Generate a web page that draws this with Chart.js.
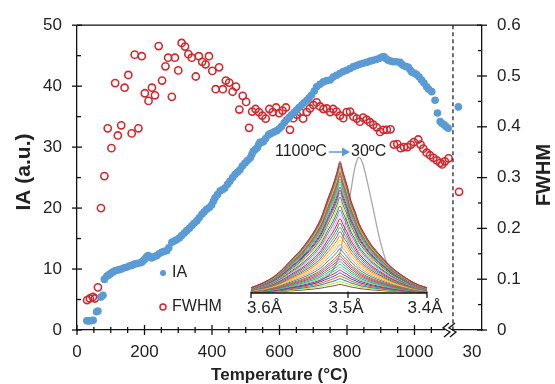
<!DOCTYPE html>
<html>
<head>
<meta charset="utf-8">
<script src="https://cdn.jsdelivr.net/npm/chart.js@4.4.1/dist/chart.umd.min.js"></script>
<style>
	body { margin: 0; background: #fff; }
	#wrap { position: relative; width: 555px; height: 384px; }
	#chart_main { position: absolute; left: 0; top: 0; }
	#chart_inset { position: absolute; left: 230px; top: 135px; }
</style>
</head>
<body>
<div id="wrap">
	<canvas id="chart_main" width="555" height="384"></canvas>
	<canvas id="chart_inset" width="220" height="190"></canvas>
</div>
<script>
// Integrated area (IA) against temperature
const iaTemp = [29, 34, 39, 44, 48, 58, 62, 71, 77, 81, 88, 93, 98, 103, 108, 113, 118, 125, 132, 140,
	147, 155, 162, 170, 177, 185, 192, 197, 202, 206, 211, 216, 221, 228, 236, 243, 251, 258, 266, 272,
	281, 288, 295, 303, 310, 318, 325, 333, 340, 347, 355, 362, 370, 377, 384, 392, 399, 404, 409, 416,
	424, 431, 438, 446, 453, 461, 468, 476, 483, 490, 498, 505, 513, 518, 522, 528, 534, 538, 542, 547,
	552, 559, 567, 572, 577, 584, 592, 599, 606, 614, 621, 629, 636, 644, 651, 658, 666, 673, 681, 688,
	695, 703, 710, 720, 730, 740, 750, 759, 769, 779, 789, 799, 809, 819, 829, 838, 848, 858, 868, 878,
	888, 898, 905, 910, 916, 922, 930, 937, 947, 957, 962, 967, 975, 982, 987, 992, 1000, 1006, 1014, 1021,
	1028, 1036, 1042, 1051, 1061, 1068, 1076, 1081, 1087, 1093, 1100, 1130];
const iaValue = [1.5, 1.5, 1.5, 1.55, 1.6, 3.0, 3.1, 5.4, 5.7, 8.3, 8.8, 9.0, 9.2, 9.4, 9.6, 9.7, 9.8, 9.9, 10.0, 10.2,
	10.3, 10.5, 10.6, 10.8, 10.9, 11.0, 11.1, 11.4, 11.7, 12.0, 12.2, 12.0, 11.8, 12.0, 12.2, 12.5, 12.75, 12.9, 13.0, 13.5,
	14.4, 14.6, 14.8, 15.1, 15.5, 15.9, 16.3, 16.7, 17.1, 17.5, 17.9, 18.4, 19.0, 19.4, 19.8, 20.1, 20.5, 21.1, 21.7, 22.2,
	22.8, 23.0, 23.3, 23.9, 24.4, 25.0, 25.5, 25.9, 26.3, 26.9, 27.4, 27.8, 28.2, 28.8, 29.3, 29.6, 29.9, 30.4, 30.8, 30.8,
	30.9, 31.4, 32.0, 32.2, 32.3, 32.5, 32.7, 33.0, 33.4, 34.0, 34.5, 34.9, 35.3, 35.7, 36.1, 36.5, 36.9, 37.3, 37.7, 38.1,
	38.55, 39.2, 39.9, 40.3, 40.7, 40.9, 41.0, 41.5, 41.8, 42.1, 42.4, 42.6, 42.9, 43.2, 43.4, 43.6, 43.75, 43.9, 44.1, 44.25,
	44.4, 44.6, 44.8, 44.8, 44.5, 44.25, 44.1, 44.0, 44.0, 43.9, 43.6, 43.4, 43.2, 43.1, 42.7, 42.3, 42.1, 41.9, 41.5, 41.0,
	40.5, 39.9, 39.5, 39.1, 37.7, 35.6, 34.2, 33.9, 33.7, 33.4, 33.1, 36.6];

// Peak width (FWHM) against temperature
const fwhmTemp = [30, 38, 47, 53, 62, 71, 81, 91, 102, 113, 121, 131, 141, 152, 162, 171, 182, 192, 201, 212,
	222, 231, 242, 252, 262, 270, 281, 290, 300, 310, 320, 330, 340, 352, 361, 371, 381, 391, 401, 411,
	421, 432, 441, 451, 461, 471, 481, 491, 501, 510, 519, 529, 539, 549, 559, 570, 580, 590, 599, 609,
	619, 631, 641, 651, 661, 670, 681, 690, 700, 710, 720, 730, 740, 750, 759, 769, 779, 789, 799, 809,
	819, 829, 838, 848, 858, 868, 878, 888, 898, 908, 918, 929, 939, 949, 959, 969, 979, 989, 998, 1011,
	1018, 1026, 1036, 1046, 1056, 1066, 1076, 1082, 1090, 1101, 1132];
const fwhmValue = [0.059, 0.062, 0.065, 0.062, 0.084, 0.240, 0.303, 0.397, 0.358, 0.486, 0.383, 0.403, 0.477, 0.502, 0.387, 0.542, 0.397, 0.539, 0.466, 0.451,
	0.477, 0.462, 0.559, 0.491, 0.519, 0.536, 0.459, 0.536, 0.511, 0.565, 0.558, 0.543, 0.536, 0.499, 0.539, 0.528, 0.523, 0.539, 0.510, 0.474,
	0.517, 0.474, 0.491, 0.487, 0.469, 0.479, 0.434, 0.461, 0.449, 0.398, 0.430, 0.435, 0.429, 0.422, 0.416, 0.435, 0.429, 0.438, 0.427, 0.432,
	0.438, 0.394, 0.417, 0.424, 0.429, 0.416, 0.429, 0.436, 0.443, 0.448, 0.440, 0.435, 0.436, 0.429, 0.435, 0.430, 0.422, 0.417, 0.429, 0.430,
	0.420, 0.416, 0.410, 0.418, 0.414, 0.409, 0.404, 0.399, 0.390, 0.394, 0.394, 0.395, 0.365, 0.366, 0.358, 0.360, 0.360, 0.365, 0.370, 0.375,
	0.365, 0.357, 0.349, 0.344, 0.339, 0.334, 0.329, 0.326, 0.332, 0.338, 0.272];

const xTickValues = [0, 200, 400, 600, 800, 1000, 1170];
const xTickLabels = ['0', '200', '400', '600', '800', '1000', '30'];
const breakAt = 1114;

// Inset: diffraction peak profiles, sampled on detector channels
const insetChannel = [0, 10, 20, 30, 40, 50, 58, 64, 70, 77, 82, 86, 89, 92, 96, 100, 104, 108, 112, 120, 130, 140, 150, 160, 168, 176];
const peakProfile = [0.04, 0.07, 0.11, 0.17, 0.25, 0.33, 0.41, 0.48, 0.57, 0.72, 0.82, 0.92, 1.0, 0.92, 0.82, 0.70, 0.62, 0.53, 0.47, 0.37, 0.28, 0.20, 0.14, 0.09, 0.06, 0.04];
const roomTempProfile = [0.02, 0.02, 0.03, 0.03, 0.04, 0.05, 0.06, 0.07, 0.09, 0.12, 0.16, 0.22, 0.28, 0.38, 0.55, 0.72, 0.88, 0.95, 0.90, 0.66, 0.34, 0.14, 0.08, 0.05, 0.04, 0.03];
const peakHeights = [0.92, 0.91, 0.90, 0.89, 0.88, 0.87, 0.86, 0.85, 0.84, 0.83, 0.82, 0.80, 0.78, 0.76, 0.74, 0.72, 0.70, 0.67, 0.64, 0.61, 0.58,
	0.55, 0.52, 0.49, 0.46, 0.43, 0.40, 0.37, 0.34, 0.31, 0.28, 0.26, 0.24, 0.22, 0.20, 0.18, 0.16, 0.14, 0.12, 0.10, 0.08, 0.06];
const insetTickPos = [0, 97, 176];
const insetTickLabels = ['3.6Å', '3.5Å', '3.4Å'];
const curveColors = ['#e41a1c', '#377eb8', '#4daf4a', '#984ea3', '#ff7f00', '#f2d600', '#f781bf', '#1b9e77', '#d95f02', '#7570b3',
	'#e7298a', '#66a61e', '#00bcd4', '#8bc34a', '#9c27b0', '#3f51b5', '#ff5722', '#009688', '#cddc39', '#795548', '#2196f3', '#ff9ecf'];

const FONT = "'Liberation Sans', Arial, sans-serif";
const INK = '#222';
const BLUE = '#5b9bd5';
const RED = '#d2282e';

function line(ctx, x1, y1, x2, y2) {
	ctx.beginPath();
	ctx.moveTo(x1, y1);
	ctx.lineTo(x2, y2);
	ctx.stroke();
}

const decor = {
	id: 'decor',
	afterDraw(chart) {
		const ctx = chart.ctx;
		const a = chart.chartArea;
		const {x, y, y2} = chart.scales;
		ctx.save();
		ctx.strokeStyle = '#111';
		ctx.lineWidth = 1.3;

		// frame top
		line(ctx, a.left, a.top, a.right, a.top);

		// tick marks
		for (let v = 0; v <= 1050; v += 50) {
			const px = x.getPixelForValue(v);
			const h = v % 200 === 0 ? 5 : 3;
			line(ctx, px, a.bottom - h, px, a.bottom + h);
		}
		for (let v = 0; v <= 50; v += 5) {
			const py = y.getPixelForValue(v);
			if (v % 10 === 0) line(ctx, a.left - 5, py, a.left + 5, py);
			else line(ctx, a.left, py, a.left + 4, py);
		}
		for (let i = 0; i <= 12; i++) {
			const py = y2.getPixelForValue(i * 0.05);
			if (i % 2 === 0) line(ctx, a.right - 5, py, a.right + 5, py);
			else line(ctx, a.right - 4, py, a.right, py);
		}

		// heating / cooling separator
		const bx = x.getPixelForValue(breakAt);
		ctx.setLineDash([4, 3]);
		ctx.lineWidth = 1.2;
		line(ctx, bx, a.top, bx, a.bottom);
		ctx.setLineDash([]);

		// axis break
		ctx.fillStyle = '#fff';
		ctx.fillRect(bx - 8, a.bottom - 2, 7, 4);
		ctx.lineWidth = 1.3;
		[bx - 9, bx - 3].forEach(o => {
			ctx.beginPath();
			ctx.moveTo(o + 5, a.bottom - 7);
			ctx.lineTo(o - 1, a.bottom - 2);
			ctx.lineTo(o + 6, a.bottom + 2);
			ctx.lineTo(o, a.bottom + 7);
			ctx.stroke();
		});

		// axis titles
		ctx.fillStyle = INK;
		ctx.textBaseline = 'middle';
		ctx.textAlign = 'center';
		ctx.font = 'bold 17px ' + FONT;
		ctx.fillText('Temperature (°C)', (a.left + a.right) / 2, 375);
		ctx.font = 'bold 21px ' + FONT;
		ctx.save();
		ctx.translate(24, 172);
		ctx.rotate(-Math.PI / 2);
		ctx.fillText('IA (a.u.)', 0, 0);
		ctx.restore();
		ctx.font = 'bold 20px ' + FONT;
		ctx.save();
		ctx.translate(544, 175);
		ctx.rotate(-Math.PI / 2);
		ctx.fillText('FWHM', 0, 0);
		ctx.restore();

		// legend
		ctx.textAlign = 'left';
		ctx.font = '16px ' + FONT;
		ctx.fillStyle = BLUE;
		ctx.beginPath();
		ctx.arc(163, 273, 3, 0, Math.PI * 2);
		ctx.fill();
		ctx.strokeStyle = RED;
		ctx.lineWidth = 1.5;
		ctx.beginPath();
		ctx.arc(163, 307, 3, 0, Math.PI * 2);
		ctx.stroke();
		ctx.fillStyle = INK;
		ctx.fillText('IA', 172, 273);
		ctx.fillText('FWHM', 172, 307);

		// inset caption
		ctx.fillText('1100ºC', 275, 152);
		ctx.fillText('30ºC', 351, 152);
		ctx.strokeStyle = BLUE;
		ctx.fillStyle = BLUE;
		line(ctx, 329, 152, 343, 152);
		ctx.beginPath();
		ctx.moveTo(350, 152);
		ctx.lineTo(342, 147.5);
		ctx.lineTo(342, 156.5);
		ctx.closePath();
		ctx.fill();
		ctx.restore();
	}
};

const axisFont = {family: FONT, size: 17};
const border = {display: true, color: '#111', width: 1.3};

new Chart(document.getElementById('chart_main'), {
	type: 'scatter',
	data: {
		datasets: [{
			label: 'IA',
			data: iaTemp.map((t, i) => ({x: t, y: iaValue[i]})),
			yAxisID: 'y',
			backgroundColor: BLUE,
			borderWidth: 0,
			pointRadius: 3.8
		}, {
			label: 'FWHM',
			data: fwhmTemp.map((t, i) => ({x: t, y: fwhmValue[i]})),
			yAxisID: 'y2',
			backgroundColor: 'rgba(0,0,0,0)',
			borderColor: RED,
			borderWidth: 1.6,
			pointRadius: 3.6
		}]
	},
	options: {
		responsive: false,
		animation: false,
		devicePixelRatio: 1,
		layout: {padding: {top: 23, left: 0, right: 0, bottom: 0}},
		plugins: {legend: {display: false}, tooltip: {enabled: false}},
		scales: {
			x: {
				type: 'linear', min: 0, max: 1200,
				afterFit: s => { s.height = 54; },
				afterBuildTicks: s => { s.ticks = xTickValues.map(v => ({value: v})); },
				grid: {display: false, drawTicks: false},
				border: border,
				ticks: {
					font: axisFont, color: INK, padding: 12, autoSkip: false, maxRotation: 0,
					callback: (v, i) => xTickLabels[i]
				}
			},
			y: {
				position: 'left', min: 0, max: 50,
				afterFit: s => { s.width = 77; },
				grid: {display: false, drawTicks: false},
				border: border,
				ticks: {font: axisFont, color: INK, padding: 15, stepSize: 10}
			},
			y2: {
				position: 'right', min: 0, max: 0.6,
				afterFit: s => { s.width = 73; },
				grid: {display: false, drawTicks: false},
				border: border,
				ticks: {
					font: axisFont, color: INK, padding: 15, stepSize: 0.1,
					callback: v => v === 0 ? '0' : v.toFixed(1)
				}
			}
		}
	},
	plugins: [decor]
});

// inset axis with d-spacing labels
const insetAxis = {
	id: 'insetAxis',
	afterDraw(chart) {
		const ctx = chart.ctx;
		const {x, y} = chart.scales;
		const base = y.getPixelForValue(0);
		ctx.save();
		ctx.strokeStyle = '#111';
		ctx.lineWidth = 1.3;
		line(ctx, x.getPixelForValue(0), base, x.getPixelForValue(176), base);
		ctx.fillStyle = INK;
		ctx.font = '17px ' + FONT;
		ctx.textBaseline = 'middle';
		insetTickPos.forEach((p, i) => {
			const px = x.getPixelForValue(p);
			line(ctx, px, base - 1.5, px, base + 5);
			ctx.textAlign = i === 0 ? 'left' : 'center';
			ctx.fillText(insetTickLabels[i], i === 0 ? px - 4 : px - 2, base + 15);
		});
		ctx.restore();
	}
};

const insetSets = peakHeights.map((h, k) => ({
	data: insetChannel.map((c, i) => ({x: c, y: peakProfile[i] * h})),
	borderColor: curveColors[k % curveColors.length],
	borderWidth: 1
}));
insetSets.push({
	data: insetChannel.map((c, i) => ({x: c, y: roomTempProfile[i]})),
	borderColor: '#a8a8a8',
	borderWidth: 1.3
});

new Chart(document.getElementById('chart_inset'), {
	type: 'line',
	data: {datasets: insetSets},
	options: {
		responsive: false,
		animation: false,
		devicePixelRatio: 1,
		layout: {padding: {left: 21, right: 23, top: 15, bottom: 32}},
		elements: {point: {radius: 0}, line: {tension: 0.3}},
		plugins: {legend: {display: false}, tooltip: {enabled: false}},
		scales: {
			x: {type: 'linear', min: 0, max: 176, display: false},
			y: {min: 0, max: 1, display: false}
		}
	},
	plugins: [insetAxis]
});
</script>
</body>
</html>
